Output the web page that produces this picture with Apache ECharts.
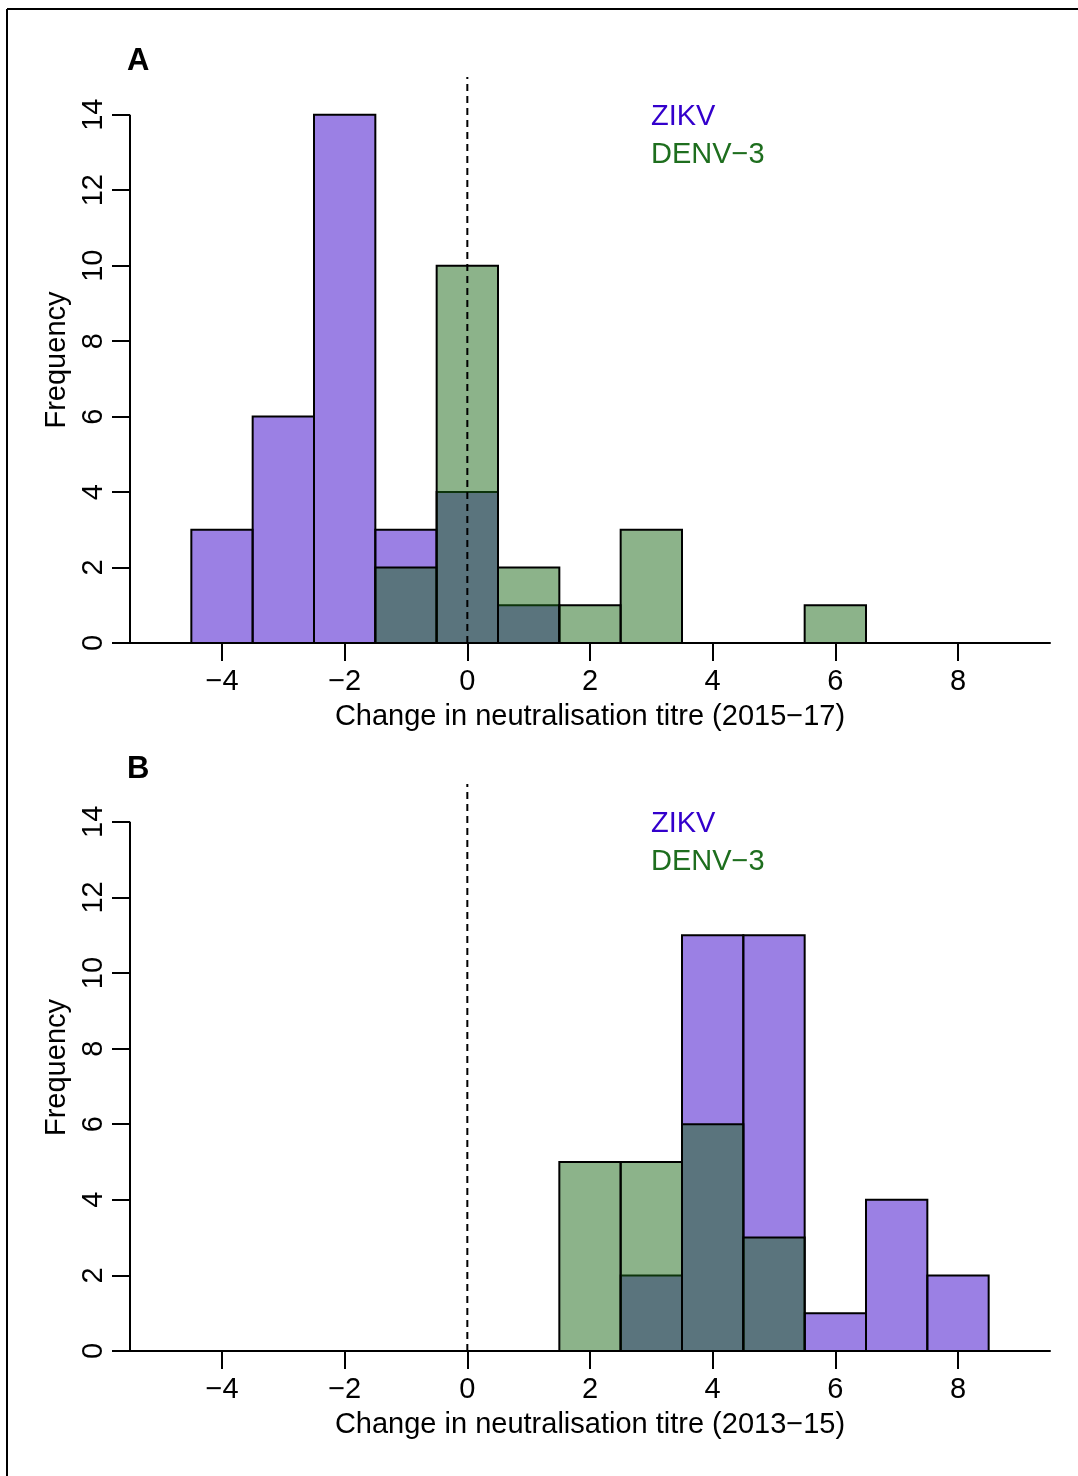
<!DOCTYPE html>
<html>
<head>
<meta charset="utf-8">
<script src="https://cdn.jsdelivr.net/npm/echarts@6/dist/echarts.min.js"></script>
<style>
html,body{margin:0;padding:0;background:#fff;}
#chart{width:1078px;height:1476px;}
</style>
</head>
<body>
<div id="chart"></div>
<script>
// Bin centres (bin width 1) and counts
const binsA_ZIKV = [-4, -3, -2, -1, 0, 1];
const countsA_ZIKV = [3, 6, 14, 3, 4, 1];
const binsA_DENV = [-1, 0, 1, 2, 3, 6];
const countsA_DENV = [2, 10, 2, 1, 3, 1];

const binsB_ZIKV = [3, 4, 5, 6, 7, 8];
const countsB_ZIKV = [2, 11, 11, 1, 4, 2];
const binsB_DENV = [2, 3, 4, 5];
const countsB_DENV = [5, 5, 6, 3];

const xTicks = [-4, -2, 0, 2, 4, 6, 8];
const yTicks = [0, 2, 4, 6, 8, 10, 12, 14];
const xLabelA = 'Change in neutralisation titre (2015\u221217)';
const xLabelB = 'Change in neutralisation titre (2013\u221215)';
const yLabel = 'Frequency';
const legendNames = ['ZIKV', 'DENV\u22123'];

const FONT = "'Liberation Sans', Arial, Helvetica, sans-serif";
const FS = 29;
const colZ = 'rgba(55,1,201,0.5)';
const colD = 'rgba(25,103,21,0.5)';
const txtZ = '#3300cc';
const txtD = '#1e6e1e';

function zip(a, b) { return a.map((v, i) => [v, b[i]]); }

function histSeries(idx, data, color, z) {
  return {
    type: 'custom',
    xAxisIndex: idx, yAxisIndex: idx,
    z: z,
    clip: false,
    data: data,
    renderItem: function (params, api) {
      const x = api.value(0), y = api.value(1);
      const p1 = api.coord([x - 0.5, y]);
      const p2 = api.coord([x + 0.5, 0]);
      return {
        type: 'rect',
        shape: { x: p1[0], y: p1[1], width: p2[0] - p1[0], height: p2[1] - p1[1] },
        style: { fill: color, stroke: '#000', lineWidth: 2 }
      };
    }
  };
}

function lineSeries(idx, data, dashed) {
  return {
    type: 'line', xAxisIndex: idx, yAxisIndex: idx,
    data: data, symbol: 'none', clip: false, silent: true, z: 10,
    lineStyle: { color: '#000', width: 2, type: dashed ? [7, 5] : 'solid' },
    animation: false
  };
}

function xAxisCfg(idx, name) {
  return {
    type: 'value', gridIndex: idx, min: -5.5, max: 9.5,
    splitLine: { show: false },
    axisLine: { show: true, onZero: false, lineStyle: { color: '#000', width: 2 } },
    axisTick: { show: true, customValues: xTicks, length: 18, lineStyle: { color: '#000', width: 2 } },
    axisLabel: { customValues: xTicks, color: '#000', fontSize: FS, fontFamily: FONT, margin: 24,
      formatter: v => (v < 0 ? '\u2212' + Math.abs(v) : String(v)) },
    name: name, nameLocation: 'middle', nameGap: 59,
    nameTextStyle: { color: '#000', fontSize: FS, fontFamily: FONT }
  };
}

function yAxisCfg(idx) {
  return {
    type: 'value', gridIndex: idx, min: 0, max: 15,
    splitLine: { show: false },
    axisLine: { show: false, onZero: false },
    axisTick: { show: true, customValues: yTicks, length: 18, lineStyle: { color: '#000', width: 2 } },
    axisLabel: { customValues: yTicks, rotate: 90, color: '#000', fontSize: FS, fontFamily: FONT, margin: 22 },
    name: yLabel, nameLocation: 'middle', nameRotate: 90, nameGap: 47,
    nameTextStyle: { color: '#000', fontSize: FS, fontFamily: FONT }
  };
}

function legendText(x, y, text, color) {
  return { type: 'text', left: x, top: y, style: { text: text, fill: color, font: FS + 'px ' + FONT } };
}

const chart = echarts.init(document.getElementById('chart'), null, { renderer: 'canvas' });
chart.setOption({
  animation: false,
  backgroundColor: '#fff',
  grid: [
    { left: 130, right: 28, top: 77, height: 566 },
    { left: 130, right: 28, top: 784, height: 567 }
  ],
  xAxis: [xAxisCfg(0, xLabelA), xAxisCfg(1, xLabelB)],
  yAxis: [yAxisCfg(0), yAxisCfg(1)],
  series: [
    histSeries(0, zip(binsA_ZIKV, countsA_ZIKV), colZ, 2),
    histSeries(0, zip(binsA_DENV, countsA_DENV), colD, 3),
    lineSeries(0, [[-5.5, 0], [-5.5, 14]], false),
    lineSeries(0, [[0, 0], [0, 15]], true),
    histSeries(1, zip(binsB_ZIKV, countsB_ZIKV), colZ, 2),
    histSeries(1, zip(binsB_DENV, countsB_DENV), colD, 3),
    lineSeries(1, [[-5.5, 0], [-5.5, 14]], false),
    lineSeries(1, [[0, 0], [0, 15]], true)
  ],
  graphic: [
    { type: 'line', shape: { x1: 7, y1: 9, x2: 1078, y2: 9 }, style: { stroke: '#000', lineWidth: 2 } },
    { type: 'line', shape: { x1: 7, y1: 9, x2: 7, y2: 1476 }, style: { stroke: '#000', lineWidth: 2 } },
    { type: 'text', left: 127, top: 46, style: { text: 'A', fill: '#000', font: 'bold 31px ' + FONT } },
    { type: 'text', left: 127, top: 754, style: { text: 'B', fill: '#000', font: 'bold 31px ' + FONT } },
    legendText(651, 102, legendNames[0], txtZ),
    legendText(651, 140, legendNames[1], txtD),
    legendText(651, 809, legendNames[0], txtZ),
    legendText(651, 847, legendNames[1], txtD)
  ]
});
</script>
</body>
</html>
